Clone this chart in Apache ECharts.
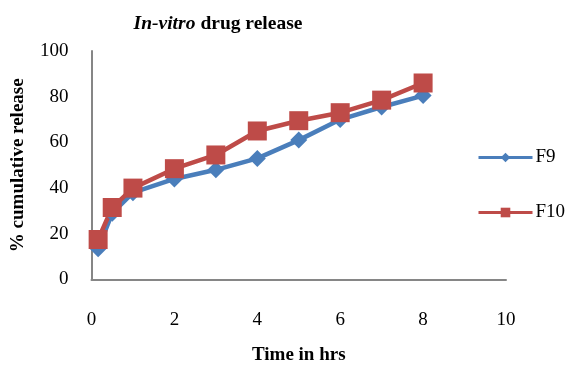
<!DOCTYPE html>
<html>
<head>
<meta charset="utf-8">
<script src="https://cdn.jsdelivr.net/npm/echarts@6/dist/echarts.min.js"></script>
<style>html,body{margin:0;padding:0;background:#fff}#c{width:565px;height:367px}</style>
</head>
<body>
<div id="c"></div>
<script>
const timeHrs = [0.16, 0.5, 1, 2, 3, 4, 5, 6, 7, 8];
const f9 = [13.5, 29, 38, 44, 48, 53, 61, 70, 75.5, 80.5];
const f10 = [17.5, 31.5, 40, 48.5, 54.5, 65, 69.5, 73, 78.5, 86];
const seriesNames = ['F9', 'F10'];
const xTicks = [0, 2, 4, 6, 8, 10];
const yTicks = [0, 20, 40, 60, 80, 100];

const font = 'Liberation Serif';
const chart = echarts.init(document.getElementById('c'), null, {renderer: 'canvas'});
chart.setOption({
  animation: false,
  backgroundColor: '#fff',
  title: {
    text: '{i|In-vitro} {b|drug release}',
    left: 213, top: 9, textAlign: 'center',
    textStyle: {
      rich: {
        i: {fontFamily: font, fontSize: 19.5, fontWeight: 'bold', fontStyle: 'italic', color: '#000'},
        b: {fontFamily: font, fontSize: 19.5, fontWeight: 'bold', color: '#000'}
      }
    }
  },
  legend: {
    orient: 'vertical', left: 472, top: 143,
    itemWidth: 54, itemHeight: 12, itemGap: 36,
    data: seriesNames,
    lineStyle: {width: 3},
    textStyle: {fontFamily: font, fontSize: 19, color: '#000', padding: [0, 0, 0, -2]}
  },
  grid: {left: 91.5, right: 59, top: 51, bottom: 87.5, containLabel: false, outerBoundsMode: 'none'},
  xAxis: {
    type: 'value', min: xTicks[0], max: xTicks[xTicks.length - 1], interval: 2,
    name: 'Time in hrs', nameLocation: 'middle', nameGap: 66,
    nameTextStyle: {fontFamily: font, fontSize: 19, fontWeight: 'bold', color: '#000'},
    axisLine: {show: true, lineStyle: {color: '#868686', width: 2}},
    axisTick: {show: false},
    splitLine: {show: false},
    axisLabel: {fontFamily: font, fontSize: 19, color: '#000', margin: 31}
  },
  yAxis: {
    type: 'value', min: yTicks[0], max: yTicks[yTicks.length - 1], interval: 20,
    name: '% cumulative release', nameLocation: 'middle', nameGap: 64,
    nameTextStyle: {fontFamily: font, fontSize: 19, fontWeight: 'bold', color: '#000'},
    axisLine: {show: true, lineStyle: {color: '#868686', width: 2}},
    axisTick: {show: false},
    splitLine: {show: false},
    axisLabel: {fontFamily: font, fontSize: 19, color: '#000', margin: 23}
  },
  series: [
    {
      name: seriesNames[0], type: 'line',
      data: timeHrs.map((t, i) => [t, f9[i]]),
      symbol: 'path://M0,-1L1,0L0,1L-1,0Z', symbolSize: 17,
      lineStyle: {color: '#4A7EBB', width: 4.5},
      itemStyle: {color: '#4A7EBB'}
    },
    {
      name: seriesNames[1], type: 'line',
      data: timeHrs.map((t, i) => [t, f10[i]]),
      symbol: 'rect', symbolSize: 19,
      lineStyle: {color: '#BE4B48', width: 4.5},
      itemStyle: {color: '#BE4B48'}
    }
  ]
});
</script>
</body>
</html>
